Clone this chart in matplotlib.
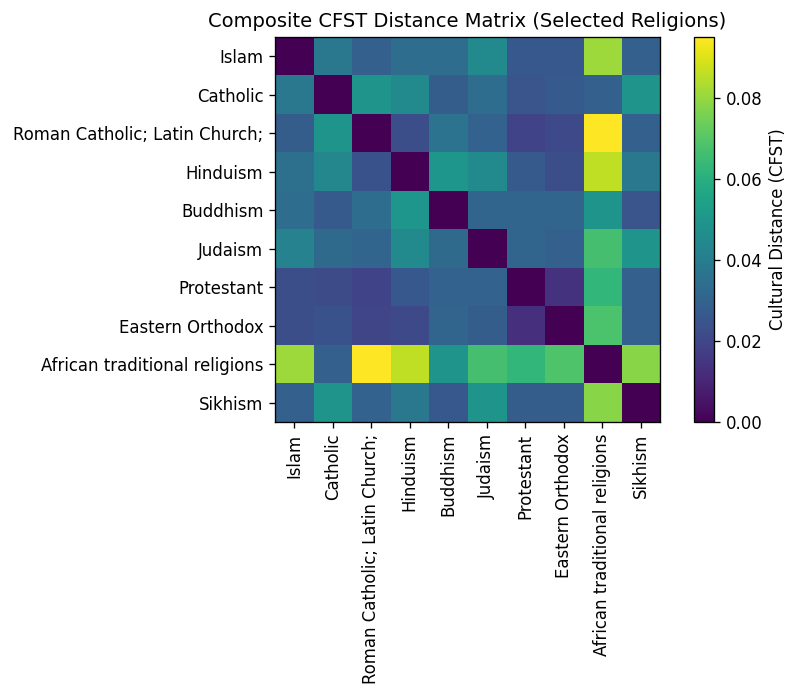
import numpy as np
import matplotlib.pyplot as plt

religions = ["Islam", "Catholic", "Roman Catholic; Latin Church;", "Hinduism",
             "Buddhism", "Judaism", "Protestant", "Eastern Orthodox",
             "African traditional religions", "Sikhism"]

# CFST distances, rows in the order of religions
islam = [0.000, 0.038, 0.029, 0.034, 0.034, 0.045, 0.026, 0.026, 0.081, 0.029]
catholic = [0.038, 0.000, 0.049, 0.045, 0.028, 0.034, 0.025, 0.027, 0.029, 0.049]
roman_catholic = [0.028, 0.049, 0.000, 0.023, 0.036, 0.030, 0.019, 0.021, 0.095, 0.029]
hinduism = [0.035, 0.044, 0.024, 0.000, 0.050, 0.045, 0.027, 0.023, 0.086, 0.038]
buddhism = [0.034, 0.027, 0.034, 0.050, 0.000, 0.031, 0.031, 0.031, 0.049, 0.025]
judaism = [0.042, 0.033, 0.031, 0.045, 0.033, 0.000, 0.031, 0.029, 0.067, 0.049]
protestant = [0.023, 0.022, 0.019, 0.026, 0.030, 0.030, 0.000, 0.014, 0.063, 0.029]
eastern_orthodox = [0.023, 0.024, 0.020, 0.021, 0.031, 0.028, 0.013, 0.000, 0.068, 0.029]
african = [0.081, 0.029, 0.095, 0.086, 0.049, 0.067, 0.063, 0.069, 0.000, 0.078]
sikhism = [0.029, 0.049, 0.030, 0.038, 0.026, 0.049, 0.028, 0.028, 0.078, 0.000]

matrix = np.array([islam, catholic, roman_catholic, hinduism, buddhism,
                   judaism, protestant, eastern_orthodox, african, sikhism])

fig = plt.figure(figsize=(788 / 119, 685 / 119), dpi=119)
ax = fig.add_axes([0.349, 0.384, 0.4886, 0.562])
cax = fig.add_axes([0.8807, 0.384, 0.0254, 0.562])

im = ax.imshow(matrix, cmap="viridis", vmin=0, aspect="auto")
ax.set_xticks(range(len(religions)))
ax.set_xticklabels(religions, rotation=90)
ax.set_yticks(range(len(religions)))
ax.set_yticklabels(religions)
ax.set_title("Composite CFST Distance Matrix (Selected Religions)", fontsize=11.8)

cb = fig.colorbar(im, cax=cax)
cb.set_label("Cultural Distance (CFST)")

fig.savefig("out.png", dpi=119)
